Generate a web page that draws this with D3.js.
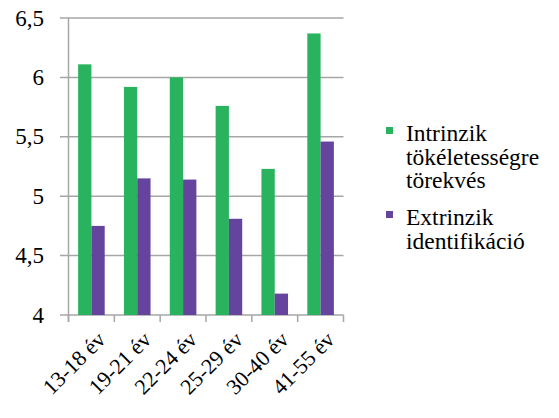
<!DOCTYPE html>
<html>
<head>
<meta charset="utf-8">
<script src="https://cdn.jsdelivr.net/npm/d3@7"></script>
</head>
<body style="margin:0">
<svg id="s" width="559" height="418"></svg>
<script>
// Age groups and the two motivation scores per group
const categories = ["13-18 év", "19-21 év", "22-24 év", "25-29 év", "30-40 év", "41-55 év"];
const intrinzik = [6.11, 5.92, 6.00, 5.76, 5.23, 6.37];
const extrinzik = [4.75, 5.15, 5.14, 4.81, 4.18, 5.46];
const seriesNames = [["Intrinzik", "tökéletességre", "törekvés"], ["Extrinzik", "identifikáció"]];
const yTicks = [4, 4.5, 5, 5.5, 6, 6.5];
const yTickLabels = ["4", "4,5", "5", "5,5", "6", "6,5"];

const colors = ["#2ab35e", "#65449e"];
const series = [intrinzik, extrinzik];
const serif = "'Liberation Serif', serif";

const svg = d3.select("#s");
const x0 = 68.5, x1 = 343.5, yTop = 18, yBottom = 315;

const x = d3.scaleBand().domain(categories).range([x0, x1]).paddingInner(0.42).paddingOuter(0.21);
const xSub = d3.scaleBand().domain([0, 1]).range([0, x.bandwidth()]);
const y = d3.scaleLinear().domain([4, 6.5]).range([yBottom, yTop]);

// Text helper: serif face for every label
function label(sel, size) {
  return sel
    .attr("font-family", "Liberation Serif")
    .style("font-family", serif, "important")
    .style("font-size", size + "px", "important")
    .style("fill", "#000");
}

// Horizontal gridlines
yTicks.forEach(v => {
  svg.append("line")
    .attr("x1", 60).attr("x2", x1)
    .attr("y1", y(v)).attr("y2", y(v))
    .attr("stroke", "#a6a6a6").attr("stroke-width", 1.5);
});

// Vertical axis line
svg.append("line")
  .attr("x1", x0).attr("x2", x0)
  .attr("y1", yTop).attr("y2", yBottom + 7)
  .attr("stroke", "#a6a6a6").attr("stroke-width", 1.5);

// Y tick labels
yTicks.forEach((v, i) => {
  label(svg.append("text")
    .attr("x", 44)
    .attr("y", y(v) + 7.5)
    .attr("text-anchor", "end"), 23)
    .text(yTickLabels[i]);
});

// Bars
categories.forEach((c, i) => {
  series.forEach((s, k) => {
    svg.append("rect")
      .attr("x", x(c) + xSub(k))
      .attr("width", xSub.bandwidth())
      .attr("y", y(s[i]))
      .attr("height", y(4) - y(s[i]))
      .attr("fill", colors[k]);
  });
});

// Category axis ticks
const step = (x1 - x0) / categories.length;
d3.range(categories.length + 1).forEach(i => {
  const px = x0 + i * step;
  svg.append("line")
    .attr("x1", px).attr("x2", px)
    .attr("y1", yBottom).attr("y2", yBottom + 7)
    .attr("stroke", "#a6a6a6").attr("stroke-width", 1.5);
});

// Rotated category labels
categories.forEach(c => {
  label(svg.append("text")
    .attr("transform", `translate(${x(c) + x.bandwidth() + 2},${yBottom + 26}) rotate(-45)`)
    .attr("text-anchor", "end"), 22)
    .text(c);
});

// Legend
const legendTops = [141, 225];
seriesNames.forEach((lines, k) => {
  svg.append("rect")
    .attr("x", 386).attr("y", legendTops[k] - 14)
    .attr("width", 7).attr("height", 7)
    .attr("fill", colors[k]);
  const t = label(svg.append("text")
    .attr("x", 406).attr("y", legendTops[k]), 23.5);
  lines.forEach((line, j) => {
    t.append("tspan").attr("x", 406).attr("dy", j === 0 ? 0 : 23.5).text(line);
  });
});
</script>
</body>
</html>
